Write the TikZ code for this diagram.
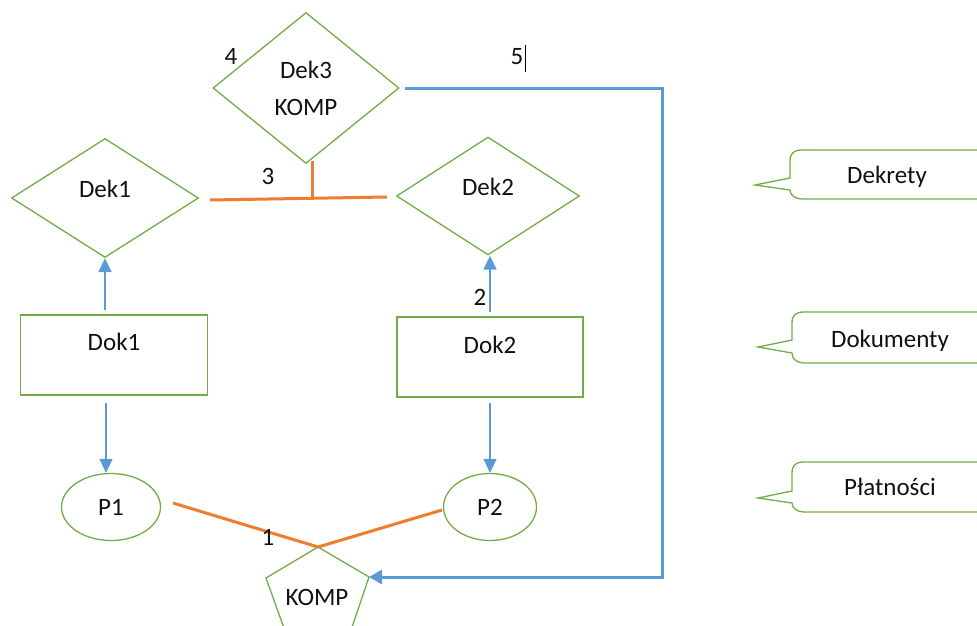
\documentclass[tikz,border=0pt]{standalone}
\usepackage{fontspec}
\setmainfont{Carlito}
\usetikzlibrary{shapes.geometric,arrows.meta}
\definecolor{grn}{HTML}{70AD47}
\definecolor{org}{HTML}{ED7D31}
\definecolor{blu}{HTML}{5B9BD5}
\definecolor{ink}{HTML}{111111}
\begin{document}
\begin{tikzpicture}[x=1pt,y=-1pt,
  fnt/.style={font=\fontsize{25}{30}\selectfont, text=ink, text height=16pt, text depth=0pt},
  txt/.style={fnt, inner sep=0pt},
  dia/.style={diamond, draw=grn, line width=1.3pt, inner sep=0pt},
  box/.style={rectangle, draw=grn, line width=1.4pt, inner sep=0pt},
  ell/.style={ellipse, draw=grn, line width=1.3pt, inner sep=0pt, minimum height=67pt, fnt},
  thinarrow/.style={draw=blu, line width=1.5pt, -{Triangle[length=14pt,width=13pt]}},
  thickline/.style={draw=blu, line width=3pt},
  orangeline/.style={draw=org, line width=3pt},
  callbody/.style={draw=grn, line width=1.3pt},
]
\useasboundingbox (0,0) rectangle (977,625);
\clip (0,0) rectangle (977,625);

% diamonds
\node[dia, minimum width=187pt, minimum height=119pt,
      label={[txt,yshift=9pt]center:Dek1}] (dek1) at (105,198) {};
\node[dia, minimum width=183pt, minimum height=118pt,
      label={[txt,yshift=9pt]center:Dek2}] (dek2) at (488,196) {};
\node[dia, minimum width=186pt, minimum height=151pt,
      label={[txt,yshift=18pt]center:Dek3},
      label={[txt,yshift=-19pt]center:KOMP}] (dek3) at (306,88) {};

% documents
\node[box, minimum width=187pt, minimum height=80pt,
      label={[txt,yshift=13pt]center:Dok1}] (dok1) at (114,355) {};
\node[box, minimum width=186pt, minimum height=80pt,
      label={[txt,yshift=12pt]center:Dok2}] (dok2) at (490,357) {};

% payments
\node[ell, minimum width=99pt] (p1) at (111,507) {P1};
\node[ell, minimum width=93pt] (p2) at (490,507) {P2};

% pentagon KOMP
\coordinate (kt) at (318,547);
\coordinate (kr) at (369,577);
\coordinate (kl) at (266,578);
\coordinate (kbr) at (347,642);
\coordinate (kbl) at (289,642);
\draw[grn, line width=1.3pt] (kt) -- (kr) -- (kbr) -- (kbl) -- (kl) -- cycle;
\node[txt] (komp) at (317,597) {KOMP};

% blue thin arrows
\coordinate (u1) at (105,315);
\coordinate (u2) at (490,317);
\draw[thinarrow, shorten <=5pt] (u1) -- (dek1.south);
\draw[thinarrow, shorten <=5pt] (u2) -- (u2 |- dek2.south);
\coordinate (a1) at (106,395);
\coordinate (a2) at (490,397);
\draw[thinarrow, shorten <=8pt] (a1) -- (a1 |- p1.north);
\draw[thinarrow, shorten <=6pt] (a2) -- (a2 |- p2.north);

% orange connectors
\coordinate (o1) at (173,503);
\coordinate (o2) at (442,510);
\draw[orangeline] (o1) -- (kt);
\draw[orangeline] (o2) -- (kt);
\coordinate (tl) at (210,200);
\coordinate (tr) at (387,197);
\coordinate (tj) at (312,198.5);
\coordinate (t3) at (312,161);
\draw[orangeline] (tl) -- (tr);
\draw[orangeline] (t3) -- (tj);

% blue thick connector
\coordinate (c1) at (662,88);
\coordinate (c2) at (662,577);
\draw[thickline, shorten <=5pt, -{Triangle[length=13pt,width=14pt]}] (dek3.east) -- (c1) -- (c2) -- (kr);

% number labels
\node[txt] (l4) at (231,56) {4};
\node[txt] (l5) at (517,56) {5};
\draw[black, line width=0.9pt] (525,45) -- (525,72);
\node[txt] (l3) at (268,176) {3};
\node[txt] (l2) at (480,297) {2};
\node[txt] (l1) at (268,537) {1};

% callouts
\begin{scope}[shift={(790,150)}]
  \draw[callbody] (220,0) -- (12,0) .. controls (4,0) and (0,3) .. (0,11) -- (0,28) -- (-35,35) -- (0,40)
     .. controls (0,45) and (5,49) .. (12,49) -- (220,49);
\end{scope}
\begin{scope}[shift={(792,312)}]
  \draw[callbody] (220,0) -- (12,0) .. controls (4,0) and (0,3) .. (0,11) -- (0,28) -- (-34,35) -- (0,41)
     .. controls (0,47) and (5,51) .. (12,51) -- (220,51);
\end{scope}
\begin{scope}[shift={(792,462)}]
  \draw[callbody] (220,0) -- (12,0) .. controls (4,0) and (0,3) .. (0,11) -- (0,29) -- (-34,36) -- (0,41)
     .. controls (0,46) and (5,50) .. (12,50) -- (220,50);
\end{scope}
\node[txt] (cdek) at (887,175) {Dekrety};
\node[txt] (cdok) at (890,339) {Dokumenty};
\node[txt] (cpla) at (890,487) {Płatności};
\end{tikzpicture}
\end{document}
